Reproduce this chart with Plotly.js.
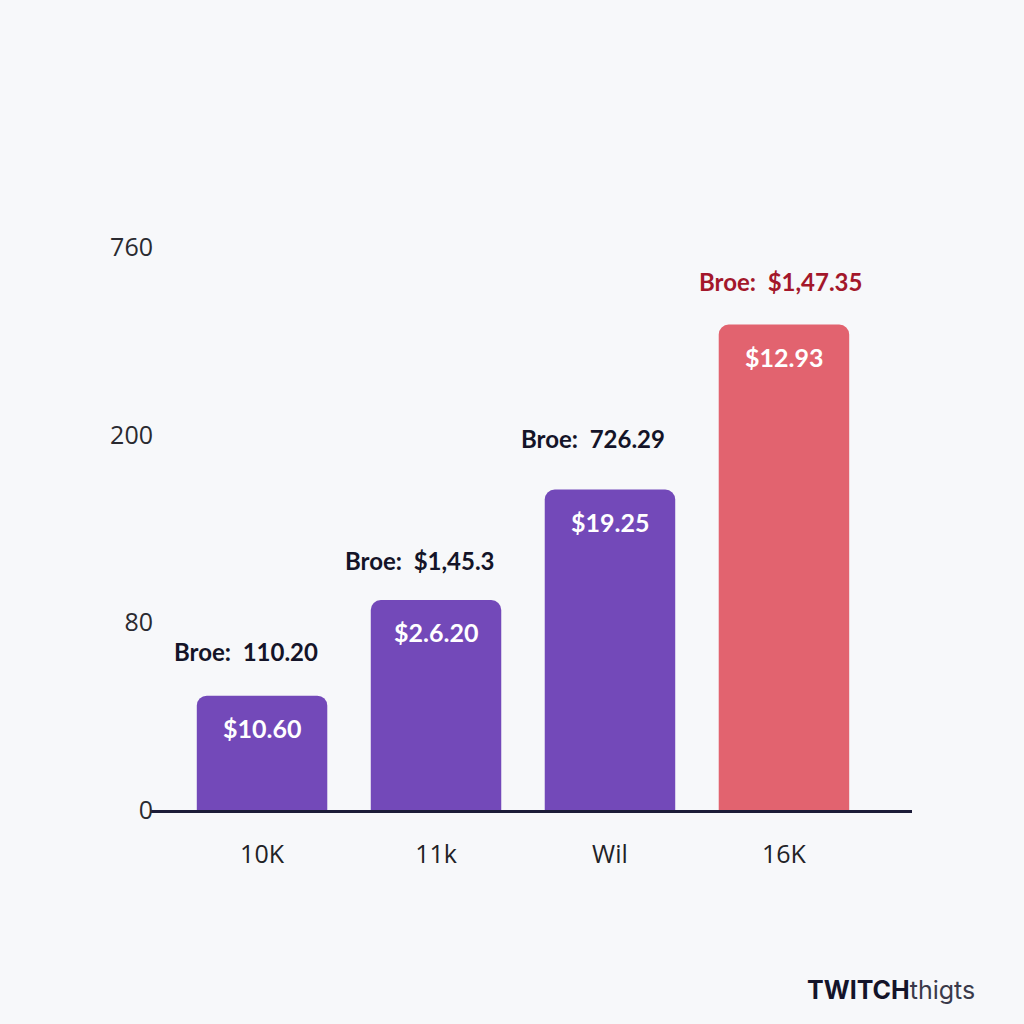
<!DOCTYPE html>
<html>
<head>
<meta charset="utf-8">
<script src="https://cdn.plot.ly/plotly-3.0.1.min.js"></script>
<style>
  html, body { margin: 0; padding: 0; background: #f7f8fa; }
  #chart { width: 1024px; height: 1024px; }
</style>
</head>
<body>
<div id="chart"></div>
<script>
// ---- data ----
const categories = ['10K', '11k', 'Wil', '16K'];
const barHeights = [0.61, 1.12, 1.71, 2.59];          // in tick-step units
const insideLabels = ['$10.60', '$2.6.20', '$19.25', '$12.93'];
const topLabelNames = ['Broe:', 'Broe:', 'Broe:', 'Broe:'];
const topLabelValues = ['110.20', '$1,45.3', '726.29', '$1,47.35'];
const yTickPositions = [0, 1, 2, 3];
const yTickLabels = ['0', '80', '200', '760'];

// ---- styling ----
const barColors = ['#7349b9', '#7349b9', '#7349b9', '#e2636f'];
const topLabelColors = ['#141428', '#141428', '#141428', '#a3172b'];
const topLabelXShift = [-16, -16, -17, -3];
const topLabelYShift = [44, 40, 51, 43];

const trace = {
  type: 'bar',
  x: categories,
  y: barHeights,
  width: 0.75,
  marker: { color: barColors, cornerradius: 10, line: { width: 0 } },
  hoverinfo: 'skip'
};

const annotations = [];
categories.forEach((c, i) => {
  annotations.push({
    x: c, y: barHeights[i], xref: 'x', yref: 'y',
    text: '<b>' + insideLabels[i] + '</b>',
    showarrow: false, yanchor: 'middle', yshift: -32,
    font: { family: 'Lato, "Open Sans", sans-serif', size: 25, color: '#ffffff' }
  });
  annotations.push({
    x: c, y: barHeights[i], xref: 'x', yref: 'y',
    text: '<b>' + topLabelNames[i] + '&nbsp;&nbsp;' + topLabelValues[i] + '</b>',
    showarrow: false, yanchor: 'middle', yshift: topLabelYShift[i], xshift: topLabelXShift[i],
    font: { family: 'Lato, "Open Sans", sans-serif', size: 24, color: topLabelColors[i] }
  });
});
annotations.push({
  xref: 'paper', yref: 'paper', x: 1.085, y: -0.274, xanchor: 'right', yanchor: 'middle',
  text: '<b>TWITCH</b><span style="color:#3a3a4a">thigts</span>',
  showarrow: false,
  font: { family: 'Inter, Lato, sans-serif', size: 25, color: '#14142a' }
});

const layout = {
  width: 1024, height: 1024,
  paper_bgcolor: '#f7f8fa', plot_bgcolor: '#f7f8fa',
  margin: { l: 150, r: 112, t: 154, b: 214 },
  showlegend: false,
  bargap: 0.25,
  xaxis: {
    type: 'category',
    range: [-0.644, 3.736],
    showgrid: false, zeroline: false,
    showline: true, linecolor: '#1c1c38', linewidth: 2.5,
    ticks: '', ticklabelstandoff: 20,
    tickfont: { family: '"Open Sans", sans-serif', size: 25, color: '#222226' },
    fixedrange: true
  },
  yaxis: {
    range: [0, 3.5],
    tickvals: yTickPositions, ticktext: yTickLabels,
    showgrid: false, zeroline: false, showline: false,
    ticks: '', ticklabelstandoff: -4,
    tickfont: { family: '"Open Sans", sans-serif', size: 25, color: '#2a2a30' },
    fixedrange: true
  },
  annotations: annotations
};

Plotly.newPlot('chart', [trace], layout, { displayModeBar: false, staticPlot: true });
</script>
</body>
</html>
